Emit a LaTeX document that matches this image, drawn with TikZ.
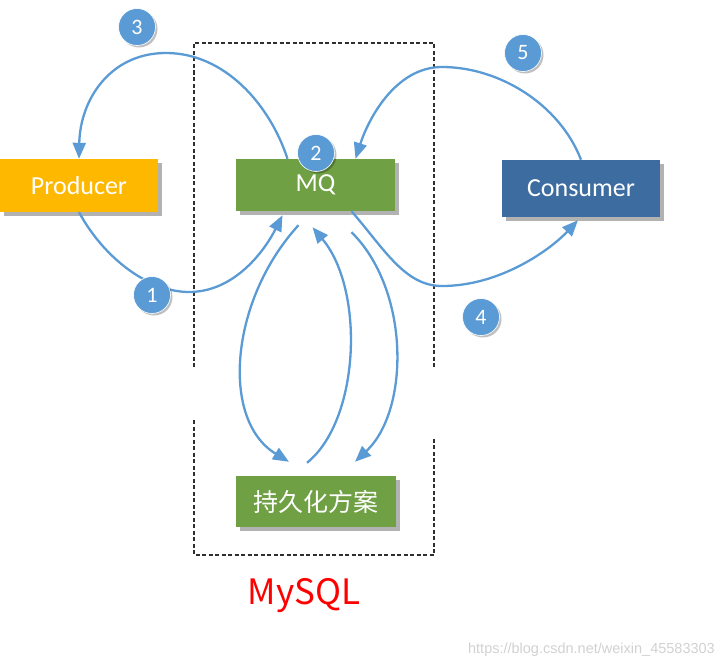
\documentclass[tikz,border=0pt]{standalone}
\usepackage{fontspec}
\setmainfont{Carlito}
\newfontfamily\cjk{Noto Sans CJK SC}
\newfontfamily\wmfont{Liberation Sans}
\usetikzlibrary{arrows.meta,shadows,calc}
\definecolor{prodcol}{HTML}{FFB800}
\definecolor{mqgreen}{HTML}{6FA043}
\definecolor{conscol}{HTML}{3D6DA0}
\definecolor{flowblue}{HTML}{5B9BD5}
\definecolor{dashgray}{HTML}{2F2F2F}
\begin{document}
\begin{tikzpicture}[x=1pt,y=-1pt,
  box/.style={rectangle,inner sep=0pt,text=white,
    font=\fontsize{26}{26}\selectfont,
    drop shadow={shadow xshift=4pt,shadow yshift=-4pt,opacity=0.3,fill=black}},
  numcircle/.style={circle,fill=flowblue,draw=white,line width=0.6pt,
    minimum size=37pt,inner sep=0pt,text=white,
    font=\fontsize{22}{22}\selectfont,
    drop shadow={shadow xshift=2pt,shadow yshift=-2pt,opacity=0.25,fill=black}},
  flow/.style={draw=flowblue,line width=2.3pt,-{Triangle[length=16pt,width=13pt]}},
  boundary/.style={draw=dashgray,line width=2.2pt,dash pattern=on 4pt off 2.5pt}]
\useasboundingbox (0,0) rectangle (721,669);
% boundary (dashed)
\draw[boundary] (194,367) -- (194,43) -- (434,43) -- (434,367);
\draw[boundary] (194,420) -- (194,555) -- (434,555) -- (434,437);
% boxes
\node[box,fill=prodcol,minimum width=158pt,minimum height=53pt] (producer) at (79,185.5) {Producer};
\node[box,fill=mqgreen,minimum width=159pt,minimum height=52pt] (mq) at (315.5,185) {MQ};
\node[box,fill=conscol,minimum width=158pt,minimum height=57pt] (consumer) at (581,188.5) {Consumer};
\node[box,fill=mqgreen,minimum width=160pt,minimum height=51pt,font=\cjk\fontsize{25}{25}\selectfont] (persist) at (316,501.5) {持久化方案};
% flows
\draw[flow] ($(mq.north)+(-28,0)$) .. controls (270,105) and (225,53) .. (166,53)
  .. controls (110,53) and (80,100) .. (producer.north);
\draw[flow] (consumer.north) .. controls (560,105) and (500,67) .. (442,67)
  .. controls (395,67) and (368,120) .. ($(mq.north)+(40,0)$);
\draw[flow] (producer.south) .. controls (105,260) and (150,292) .. (189,292)
  .. controls (235,292) and (265,250) .. ($(mq.south)+(-33,4)$);
\draw[flow] ($(mq.south)+(36,0)$) .. controls (385,250) and (405,286) .. (442,286)
  .. controls (500,286) and (550,250) .. ($(consumer.south)+(-3,3)$);
\draw[flow] ($(mq.south)+(-17,14)$) .. controls (230,300) and (220,420) .. ($(persist.north)+(-27,-14)$);
\draw[flow] ($(persist.north)+(-9,-13)$) .. controls (360,420) and (365,290) .. ($(mq.south)+(-3,16)$);
\draw[flow] ($(mq.south)+(36,21)$) .. controls (410,290) and (410,410) .. ($(persist.north)+(39,-14)$);
% numbered markers
\node[numcircle] (n3) at (137,27) {3};
\node[numcircle] (n5) at (523,53) {5};
\node[numcircle] (n2) at (316,153) {2};
\node[numcircle] (n1) at (152,295) {1};
\node[numcircle] (n4) at (481,317) {4};
% labels
\node[text=red,font=\cjk\fontsize{35}{35}\selectfont,inner sep=0pt] (mysql) at (304,596) {MySQL};
\node[text=black!18,font=\wmfont\fontsize{14.5}{14.5}\selectfont,inner sep=0pt,anchor=east] (wm) at (715,650) {https://blog.csdn.net/weixin\_45583303};
\end{tikzpicture}
\end{document}
